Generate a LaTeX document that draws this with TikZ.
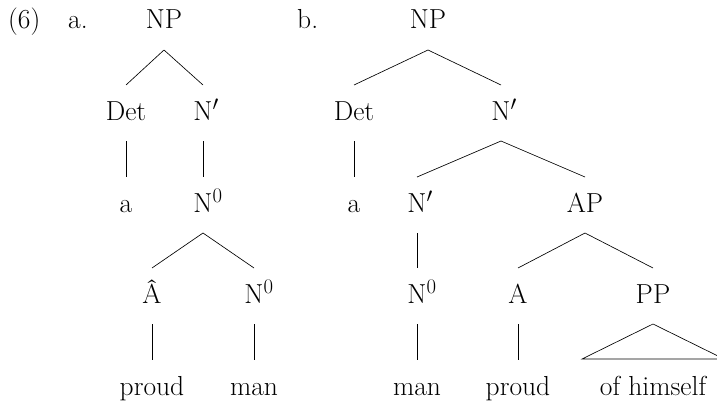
\documentclass[tikz,border=0pt]{standalone}
\begin{document}
\begin{tikzpicture}[x=1pt,y=-1pt,
  tn/.style={anchor=base, inner sep=0pt, font=\fontsize{27.5}{33}\selectfont},
  lbl/.style={anchor=base west, inner sep=0pt, font=\fontsize{27.5}{33}\selectfont},
  branch/.style={line width=0.65pt}]
\useasboundingbox (0,0) rectangle (717,404);
% labels
\node[lbl] (ex) at (8,29) {(6)};
\node[lbl] (la) at (68,29) {a.};
\node[lbl] (lb) at (297,29) {b.};
% tree a
\node[tn] (npa) at (164,29) {NP};
\node[tn] (deta) at (126,120) {Det};
\node[tn] (nbara) at (203,120) {N\rlap{$'$}};
\node[tn] (aa) at (126,212) {a};
\node[tn] (n0a) at (203,212) {N\rlap{$^0$}};
\node[tn] (ahat) at (152,303) {\^A};
\node[tn] (n0a2) at (254,303) {N\rlap{$^0$}};
\node[tn] (prouda) at (152,395) {proud};
\node[tn] (mana) at (254,395) {man};
% tree b
\node[tn] (npb) at (428,29) {NP};
\node[tn] (detb) at (354,120) {Det};
\node[tn] (nbarb) at (501,120) {N\rlap{$'$}};
\node[tn] (ab) at (354,212) {a};
\node[tn] (nbarb2) at (417,212) {N\rlap{$'$}};
\node[tn] (ap) at (585,212) {AP};
\node[tn] (n0b) at (417,303) {N\rlap{$^0$}};
\node[tn] (adj) at (518,303) {A};
\node[tn] (pp) at (653,303) {PP};
\node[tn] (manb) at (417,395) {man};
\node[tn] (proudb) at (518,395) {proud};
\node[tn] (ofh) at (653,395) {of himself};
% branches a
\draw[branch] ([yshift=-21pt]npa.base) -- ([yshift=35pt]deta.base);
\draw[branch] ([yshift=-21pt]npa.base) -- ([yshift=35pt]nbara.base);
\draw[branch] ([yshift=-21pt]deta.base) -- ([yshift=35pt]aa.base);
\draw[branch] ([yshift=-21pt]nbara.base) -- ([yshift=35pt]n0a.base);
\draw[branch] ([yshift=-21pt]n0a.base) -- ([yshift=35pt]ahat.base);
\draw[branch] ([yshift=-21pt]n0a.base) -- ([yshift=35pt]n0a2.base);
\draw[branch] ([yshift=-21pt]ahat.base) -- ([yshift=35pt]prouda.base);
\draw[branch] ([yshift=-21pt]n0a2.base) -- ([yshift=35pt]mana.base);
% branches b
\draw[branch] ([yshift=-21pt]npb.base) -- ([yshift=35pt]detb.base);
\draw[branch] ([yshift=-21pt]npb.base) -- ([yshift=35pt]nbarb.base);
\draw[branch] ([yshift=-21pt]detb.base) -- ([yshift=35pt]ab.base);
\draw[branch] ([yshift=-21pt]nbarb.base) -- ([yshift=35pt]nbarb2.base);
\draw[branch] ([yshift=-21pt]nbarb.base) -- ([yshift=35pt]ap.base);
\draw[branch] ([yshift=-21pt]nbarb2.base) -- ([yshift=35pt]n0b.base);
\draw[branch] ([yshift=-21pt]ap.base) -- ([yshift=35pt]adj.base);
\draw[branch] ([yshift=-21pt]ap.base) -- ([yshift=35pt]pp.base);
\draw[branch] ([yshift=-21pt]n0b.base) -- ([yshift=35pt]manb.base);
\draw[branch] ([yshift=-21pt]adj.base) -- ([yshift=35pt]proudb.base);
\draw[branch] ([yshift=-21pt]pp.base) -- ([xshift=-71pt,yshift=36pt]ofh.base) -- ([xshift=71pt,yshift=36pt]ofh.base) -- cycle;
\end{tikzpicture}
\end{document}
